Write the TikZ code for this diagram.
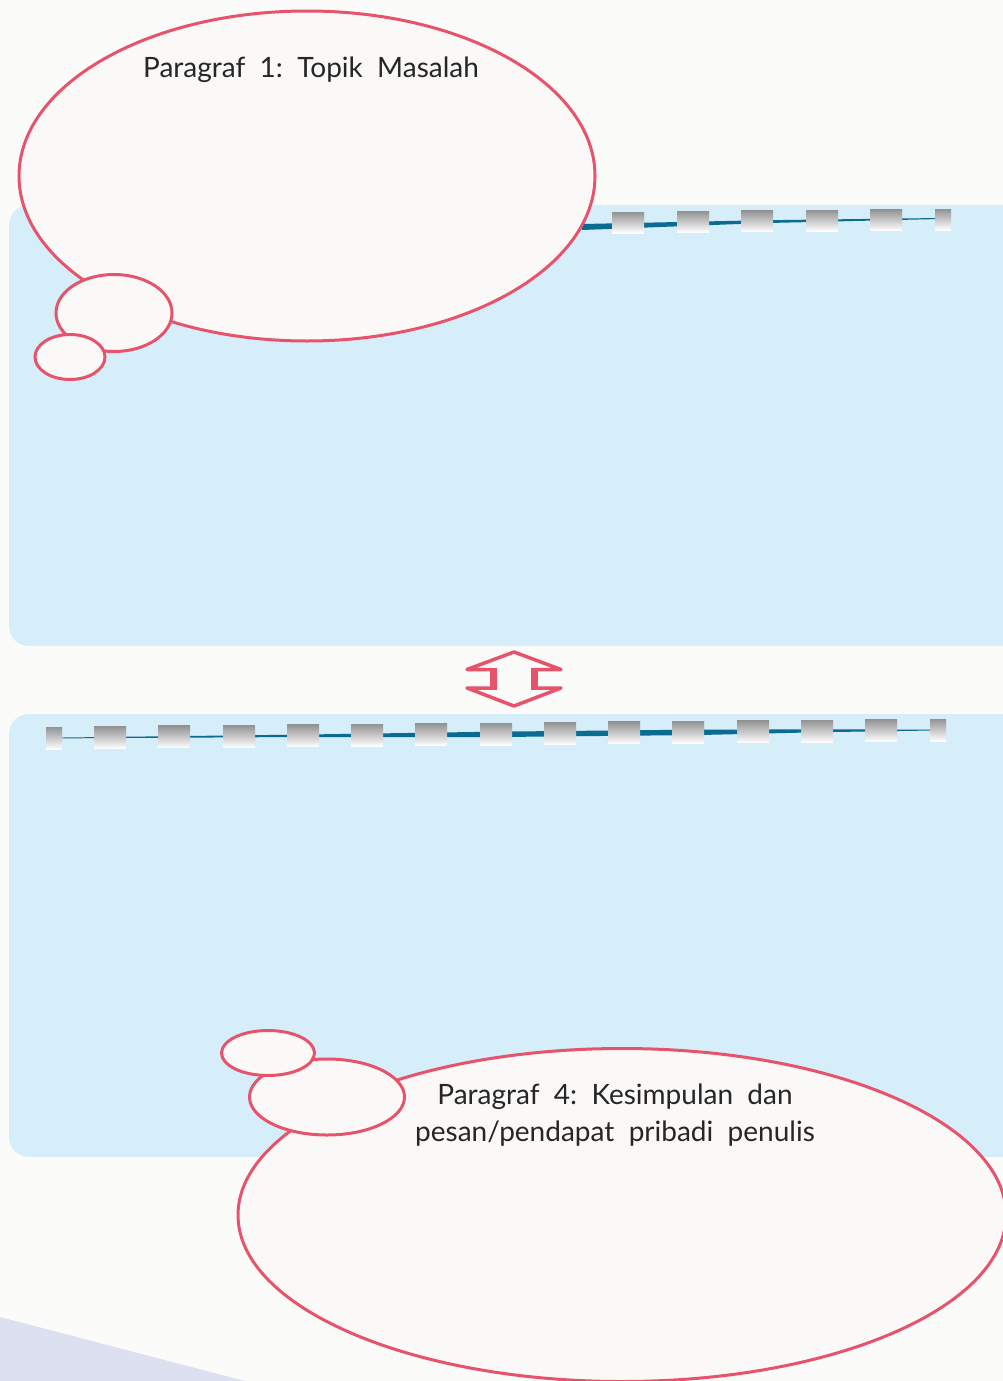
\documentclass[tikz,border=0pt]{standalone}
\usepackage{fontspec}
\setmainfont{Lato}
\usetikzlibrary{shapes.geometric}
\definecolor{pagebg}{HTML}{FBFBFA}
\definecolor{panel}{HTML}{D6EDFA}
\definecolor{bubblefill}{HTML}{FBF9F7}
\definecolor{pinkline}{HTML}{E8536C}
\definecolor{tapeline}{HTML}{0B6C92}
\definecolor{tapegray}{HTML}{939393}
\definecolor{lavender}{HTML}{DCE0F0}
\tikzset{
  bubble/.style={ellipse, draw=pinkline, fill=bubblefill, line width=3pt, inner sep=0pt},
  panelbox/.style={fill=panel, rounded corners=20pt},
  tapesq/.style={top color=tapegray, middle color=tapegray, bottom color=white},
  label/.style={font=\fontsize{28}{37}\selectfont, text=black!85, align=center, inner sep=0pt}
}
\begin{document}
\begin{tikzpicture}[x=1pt,y=-1pt]
\useasboundingbox (0,0) rectangle (1003,1381);
\clip (0,0) rectangle (1003,1381);
\fill[pagebg] (0,0) rectangle (1003,1381);
% lavender corner
\fill[lavender] (0,1317) -- (245,1381) -- (0,1381) -- cycle;
% panels
\fill[panelbox] (9,205) rectangle (1030,646);
\fill[panelbox] (9,714) rectangle (1030,1157);
% top tape
\fill[tapeline] (582,224) -- (760,220.3) -- (940,218) -- (940,219) -- (760,223.2) -- (582,230) -- cycle;
\foreach \x/\w in {612/32,677/32,741/32,806/32,870/32,935/16}{
  \pgfmathsetmacro{\yt}{212-3*(\x-612)/323}
  \shade[tapesq] (\x,\yt) rectangle ++(\w,21);
}
% bottom tape
\fill[tapeline] (55,737.6) -- (300,734.6) -- (500,731.6) -- (700,729.6) -- (820,729.4) -- (940,729.6) -- (940,730.4) -- (820,732.2) -- (700,735.0) -- (500,737.0) -- (300,737.0) -- (55,738.4) -- cycle;
\foreach \x/\w in {46/16,94/32,158/32,223/32,287/32,351/32,415/32,480/32,544/32,608/32,672/32,737/32,801/32,865/32,930/16}{
  \pgfmathsetmacro{\yt}{727-8*(\x-46)/884}
  \shade[tapesq] (\x,\yt) rectangle ++(\w,22);
}
% double arrow
\draw[pinkline, line width=3.5pt, line join=round] (514,652) -- (561,669.5) -- (535,669.5) -- (535,688) -- (561,688) -- (514,706) -- (467,688) -- (492,688) -- (492,669.5) -- (467,669.5) -- cycle;
\fill[pinkline] (490,668) rectangle (497,690);
\fill[pinkline] (531,668) rectangle (538,690);
% top bubbles
\node[bubble, minimum width=576pt, minimum height=330pt] (b1) at (307,176) {};
\node[bubble, minimum width=116pt, minimum height=77pt] (b1a) at (114,313) {};
\node[bubble, minimum width=70pt, minimum height=45pt] (b1b) at (70,357) {};
\node[label] (t1) at (311,70) {Paragraf\ \ 1:\ \ Topik\ \ Masalah};
% bottom bubbles
\node[bubble, minimum width=768pt, minimum height=333pt] (b4) at (622,1215) {};
\node[bubble, minimum width=155pt, minimum height=76pt] (b4a) at (327,1097) {};
\node[bubble, minimum width=93pt, minimum height=45pt] (b4b) at (268,1053) {};
\node[label] (t4) at (615,1115) {Paragraf\ \ 4:\ \ Kesimpulan\ \ dan\\pesan/pendapat\ \ pribadi\ \ penulis};
\end{tikzpicture}
\end{document}
